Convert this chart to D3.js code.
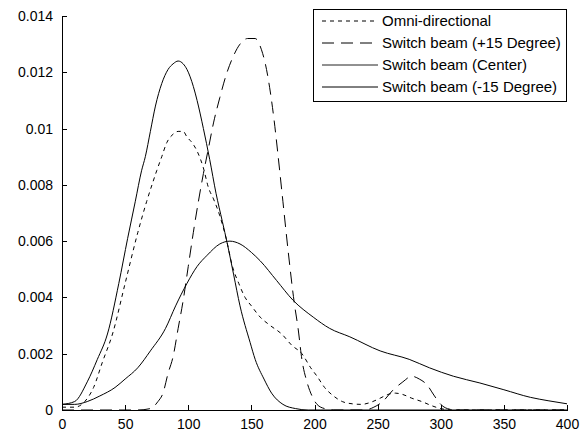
<!DOCTYPE html>
<meta charset="utf-8">
<style>
body, html {
  padding: 0;
  margin: 0;
  background: #fff;
}
svg {
  font-family: "Liberation Sans", Arial, sans-serif;
}
.axis path, .axis line {
  stroke: #000;
  shape-rendering: crispEdges;
}
.axis text {
  font-size: 14px;
  fill: #000;
}
.curve {
  fill: none;
  stroke: #000;
  stroke-width: 1;
}
</style>
<body>
<script src="https://d3js.org/d3.v7.min.js"></script>
<script>

var width = 580,
    height = 438,
    margin = {top: 16, right: 13, bottom: 28, left: 62}

var xTicks = [0, 50, 100, 150, 200, 250, 300, 350, 400]
var yTicks = [0, 0.002, 0.004, 0.006, 0.008, 0.01, 0.012, 0.014]

var omniX = [0, 10, 18, 25, 32, 40, 50, 60, 67, 72, 75, 79, 83, 88, 92, 96, 99, 103, 107, 112, 116, 120, 125, 130, 135, 140, 145, 150, 157, 165, 174, 182, 190, 197, 202, 208, 215, 222, 230, 237, 245, 252, 258, 264, 270, 277, 285, 293, 300, 310, 400]
var omniY = [0.0001, 0.0001, 0.0003, 0.0008, 0.0017, 0.0027, 0.0045, 0.0063, 0.0074, 0.0081, 0.0085, 0.009, 0.0095, 0.0098, 0.0099, 0.0099, 0.0097, 0.0095, 0.0092, 0.0086, 0.0079, 0.0075, 0.0069, 0.0061, 0.0051, 0.0045, 0.004, 0.0037, 0.0033, 0.003, 0.0027, 0.0023, 0.002, 0.0015, 0.0012, 0.0008, 0.0005, 0.0003, 0.00022, 0.0002, 0.00028, 0.00042, 0.00055, 0.0006, 0.00055, 0.00042, 0.0003, 0.00015, 0.00005, 0, 0]

var plusX = [0, 60, 70, 76, 80, 84, 88, 92, 96, 100, 104, 108, 112, 116, 120, 125, 130, 135, 141, 147, 153, 158, 162, 165, 168, 171, 175, 179, 184, 187, 190, 194, 198, 202, 208, 215, 240, 247, 254, 262, 270, 277, 283, 289, 295, 300, 307, 315, 400]
var plusY = [0, 0, 0.00005, 0.0003, 0.0006, 0.0013, 0.0019, 0.0029, 0.0039, 0.0051, 0.0063, 0.0074, 0.0084, 0.0093, 0.0102, 0.0111, 0.0119, 0.0125, 0.013, 0.0132, 0.0132, 0.0128, 0.0121, 0.0113, 0.0103, 0.0091, 0.0074, 0.0057, 0.0038, 0.0029, 0.0018, 0.001, 0.0005, 0.0002, 0.00005, 0, 0, 0.0001, 0.0003, 0.0007, 0.001, 0.0012, 0.0011, 0.0009, 0.0005, 0.0002, 0.00003, 0, 0]

var centerX = [0, 10, 20, 28, 36, 45, 52, 58, 63, 66, 70, 74, 79, 84, 88, 92, 96, 99, 104, 107, 112, 117, 122, 127, 131, 136, 141, 149, 153, 160, 166, 175, 185, 195, 205, 400]
var centerY = [0.0002, 0.0003, 0.001, 0.0018, 0.0027, 0.0045, 0.0061, 0.0074, 0.0085, 0.009, 0.0099, 0.0108, 0.0116, 0.0121, 0.0123, 0.0124, 0.0123, 0.0121, 0.0115, 0.011, 0.01, 0.0089, 0.0077, 0.0067, 0.0059, 0.0048, 0.0037, 0.0024, 0.0018, 0.0011, 0.0006, 0.0002, 0.00005, 0, 0, 0]

var minusX = [0, 10, 20, 30, 42, 50, 60, 70, 82, 90, 99, 107, 115, 125, 133, 141, 150, 157, 170, 183, 199, 212, 228, 252, 275, 291, 310, 331, 350, 371, 385, 400]
var minusY = [0.0002, 0.0002, 0.0003, 0.0005, 0.0008, 0.0011, 0.0015, 0.0021, 0.0029, 0.0037, 0.0045, 0.0051, 0.0055, 0.0059, 0.006, 0.0059, 0.0056, 0.0053, 0.0046, 0.0039, 0.0033, 0.0029, 0.0026, 0.0021, 0.0018, 0.0015, 0.0012, 0.00096, 0.00072, 0.00045, 0.00033, 0.00022]

var labels = ["Omni-directional", "Switch beam (+15 Degree)", "Switch beam (Center)", "Switch beam (-15 Degree)"]

var series = [
  {label: labels[0], xs: omniX, ys: omniY, dash: "4,4", color: "#000"},
  {label: labels[1], xs: plusX, ys: plusY, dash: "12,7", color: "#000"},
  {label: labels[2], xs: centerX, ys: centerY, dash: null, color: "#222"},
  {label: labels[3], xs: minusX, ys: minusY, dash: null, color: "#000"}
]

var svg = d3.select("body").append("svg")
    .attr("width", width)
    .attr("height", height)

var x = d3.scaleLinear()
    .domain([0, 400])
    .range([margin.left, width - margin.right])

var y = d3.scaleLinear()
    .domain([0, 0.014])
    .range([height - margin.bottom, margin.top])

var line = d3.line()
    .x(function(d) { return x(d[0]) })
    .y(function(d) { return y(d[1]) })
    .curve(d3.curveMonotoneX)

svg.selectAll(".curve")
    .data(series)
    .enter().append("path")
    .attr("class", "curve")
    .attr("stroke", function(d) { return d.color })
    .attr("stroke-dasharray", function(d) { return d.dash })
    .attr("d", function(d) { return line(d3.zip(d.xs, d.ys)) })

// matlab style: ticks pointing inward, no box
svg.append("g")
    .attr("class", "axis")
    .attr("transform", "translate(0," + y(0) + ")")
    .call(d3.axisBottom(x).tickValues(xTicks).tickSizeInner(-5).tickSizeOuter(0).tickPadding(9))

svg.append("g")
    .attr("class", "axis")
    .attr("transform", "translate(" + x(0) + ",0)")
    .call(d3.axisLeft(y).tickValues(yTicks).tickSizeInner(-5).tickSizeOuter(0).tickPadding(9)
      .tickFormat(function(d) { return d === 0 ? "0" : d3.format("")(+d.toFixed(3)) }))

var legend = svg.append("g")
    .attr("transform", "translate(313,9)")

legend.append("rect")
    .attr("width", 253)
    .attr("height", 92)
    .attr("fill", "#fff")
    .attr("stroke", "#000")
    .attr("shape-rendering", "crispEdges")

var item = legend.selectAll(".item")
    .data(series)
    .enter().append("g")
    .attr("transform", function(d, i) { return "translate(0," + (12 + i * 22) + ")" })

item.append("line")
    .attr("x1", 9)
    .attr("x2", 65)
    .attr("stroke", function(d) { return d.color })
    .attr("stroke-dasharray", function(d) { return d.dash })

item.append("text")
    .attr("x", 69)
    .attr("dy", "0.35em")
    .style("font-size", "15px")
    .text(function(d) { return d.label })

</script>
</body>
